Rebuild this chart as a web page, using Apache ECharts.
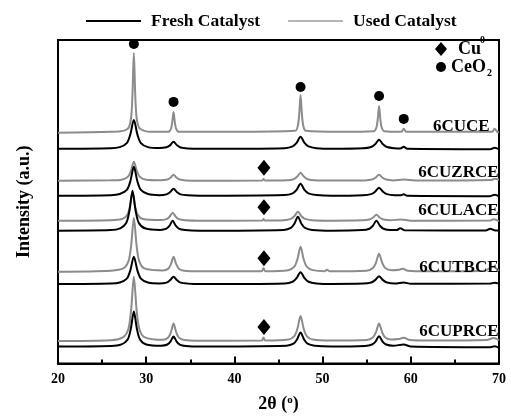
<!DOCTYPE html>
<html>
<head>
<meta charset="utf-8">
<script src="https://cdn.jsdelivr.net/npm/echarts@6/dist/echarts.min.js"></script>
<style>
  html, body { margin: 0; padding: 0; background: #fff; }
  #chart { width: 511px; height: 418px; }
</style>
</head>
<body>
<div id="chart"></div>
<script>
// XRD patterns, 2θ (deg) vs. stacked intensity (a.u., offset per sample)
const xTicks = [20, 30, 40, 50, 60, 70];
const samples = ['6CUCE', '6CUZRCE', '6CULACE', '6CUTBCE', '6CUPRCE'];

// used catalysts (grey traces)
const usedCUCE = [[20,231],[26,232],[27.4,233],[28.0,236],[28.3,247],[28.45,271],[28.6,311],[28.75,271],[28.9,247],[29.2,236],[29.8,233],[30.5,232],[32.5,232],[32.8,235],[32.95,241.5],[33.1,252],[33.25,241.5],[33.4,235],[33.7,232],[40,232],[46.9,233],[47.2,238.6],[47.35,250],[47.5,269],[47.65,250],[47.8,238.6],[48.1,233],[52,232],[55.8,232.6],[56.1,236.4],[56.25,244.5],[56.4,258],[56.55,244.5],[56.7,236.4],[57.0,232.6],[58.9,232],[59.2,235],[59.5,232],[65,232],[69.2,232],[69.5,235],[69.8,232],[70,231.5]];
const usedZRCE = [[20,183],[26,183.5],[27.2,184.1],[27.9,186.8],[28.25,192.5],[28.6,202],[28.95,192.5],[29.3,186.8],[30.0,184.1],[31.7,183.6],[32.4,184.3],[32.75,186],[33.1,189],[33.45,186],[33.8,184.2],[34.5,183.4],[36,183],[43.15,183.2],[43.3,184.8],[43.45,183.2],[45.9,183.5],[46.7,184.6],[47.1,187],[47.5,191],[47.9,187],[48.3,184.6],[49.1,183.5],[51,183.2],[54.8,183.4],[55.6,184.2],[56.0,186],[56.4,189],[56.8,186],[57.2,184.2],[58.0,183.4],[59.2,184.2],[60.5,183.3],[69.2,183.8],[69.5,185],[70,184]];
const usedLACE = [[20,143],[26,143.5],[27.25,144.7],[27.85,148.6],[28.15,157],[28.45,171],[28.75,157],[29.05,148.6],[29.65,144.7],[31.6,143.6],[32.3,144.6],[32.65,147],[33.0,151],[33.35,147],[33.7,144.6],[34.4,143.5],[36,143],[43.15,143.2],[43.3,144.6],[43.45,143.2],[45.6,143.5],[46.4,144.8],[46.8,147.5],[47.2,152],[47.6,147.5],[48.0,144.8],[48.8,143.5],[51,143],[54.5,143.4],[55.3,144.2],[55.7,146],[56.1,149],[56.5,146],[56.9,144.2],[57.7,143.4],[58.9,144.3],[60,143],[69.0,143.2],[69.4,144.4],[70,142.5]];
const usedTBCE = [[20,92],[26,93],[27.4,95.2],[28.0,102.8],[28.3,119],[28.6,146],[28.9,119],[29.2,102.8],[29.8,95.2],[31.9,93.2],[32.5,95],[32.8,99.5],[33.1,107],[33.4,99.5],[33.7,95],[34.3,92.9],[36,92.3],[43.1,92.5],[43.3,95.5],[43.5,92.5],[46.1,93.5],[46.8,97],[47.15,104.5],[47.5,117],[47.85,104.5],[48.2,97],[48.9,93.5],[50.2,92.4],[50.5,94],[50.8,92.4],[55.0,93],[55.7,95.6],[56.05,101],[56.4,110],[56.75,101],[57.1,95.6],[57.8,93.5],[58.7,94],[59.1,94.8],[59.6,93],[62,92.3],[68.4,93],[69.3,97],[70,93]];
const usedPRCE = [[20,22.5],[26,23.3],[27.4,26.4],[28.0,35.4],[28.3,54.8],[28.6,87],[28.9,54.8],[29.2,35.4],[29.8,26.4],[31.9,23.7],[32.5,26],[32.8,31.3],[33.1,40],[33.4,31.3],[33.7,26],[34.3,23.5],[36,22.8],[43.1,23],[43.3,26],[43.5,23],[46.1,24],[46.8,27.5],[47.15,35],[47.5,47.5],[47.85,35],[48.2,27.5],[48.9,24],[51,23],[55.0,23.5],[55.7,26],[56.05,31.3],[56.4,40],[56.75,31.3],[57.1,26],[57.8,24],[58.6,24.5],[59.2,25.8],[59.9,23.5],[62,23],[68.6,23.5],[69.4,25.5],[70,23.3]];

// fresh catalysts (black traces)
const freshCUCE = [[20,215],[26,215.5],[27.0,216.7],[27.8,220.8],[28.2,229.5],[28.6,244],[29.0,229.5],[29.4,220.8],[30.2,216.7],[31.5,215.8],[32.3,216.6],[32.7,218.5],[33.1,222],[33.5,218.5],[33.9,216.4],[34.7,215.4],[36,215],[45.7,215.7],[46.6,217.4],[47.05,221],[47.5,227],[47.95,221],[48.4,217.4],[49.3,215.7],[51,215],[54.6,215.5],[55.5,216.8],[55.95,219.5],[56.4,224],[56.85,219.5],[57.3,216.8],[58.2,215.5],[58.8,215.3],[59.2,217],[59.6,215],[69.0,214.6],[69.5,216],[70,214.5]];
const freshZRCE = [[20,168],[26,168.5],[27.0,169.7],[27.8,173.8],[28.2,182.5],[28.6,197],[29.0,182.5],[29.4,173.8],[30.2,169.7],[31.5,168.6],[32.3,169.4],[32.7,171.5],[33.1,175],[33.5,171.5],[33.9,169.4],[34.7,168.4],[36,168],[45.7,168.7],[46.6,170.4],[47.05,174],[47.5,180],[47.95,174],[48.4,170.4],[49.3,168.7],[51,168],[54.6,168.5],[55.5,169.6],[55.95,172],[56.4,176],[56.85,172],[57.3,169.6],[58.2,168.5],[58.8,168.4],[59.2,169.5],[59.6,168],[69.0,167.6],[69.5,169],[70,167.5]];
const freshLACE = [[20,133],[26,133.6],[27.05,135.4],[27.75,141],[28.1,153],[28.45,173],[28.8,153],[29.15,141],[29.85,135.4],[31.6,133.8],[32.3,135],[32.65,138],[33.0,143],[33.35,138],[33.7,135],[34.4,133.6],[36,133],[45.6,133.8],[46.4,135.8],[46.8,140],[47.2,147],[47.6,140],[48.0,135.8],[48.8,133.8],[51,133],[54.5,133.6],[55.3,135],[55.7,138],[56.1,143],[56.5,138],[56.9,135],[57.7,133.6],[58.4,133.6],[58.8,135.5],[59.3,133.5],[68.5,133.2],[69.0,135],[69.6,133.3],[70,133.3]];
const freshTBCE = [[20,79.5],[26,80],[27.0,81.1],[27.8,85],[28.2,93.3],[28.6,107],[29.0,93.3],[29.4,85],[30.2,81.1],[31.5,80.2],[32.3,81],[32.7,83.3],[33.1,87],[33.5,83.3],[33.9,81],[34.7,80],[36,79.5],[45.7,80.2],[46.6,81.9],[47.05,85.5],[47.5,91.5],[47.95,85.5],[48.4,81.9],[49.3,80.2],[51,79.6],[54.6,80],[55.5,81.1],[55.95,83.5],[56.4,87.5],[56.85,83.5],[57.3,81.1],[58.2,80],[59.2,81.2],[60,79.8],[69,80],[69.5,81],[70,80]];
const freshPRCE = [[20,17],[26,17.5],[27.2,19.1],[27.9,24],[28.25,34.5],[28.6,52],[28.95,34.5],[29.3,24],[30.0,19.1],[31.7,17.8],[32.4,19],[32.75,22],[33.1,27],[33.45,22],[33.8,19],[34.5,17.6],[36,17],[45.9,17.8],[46.7,19.8],[47.1,24],[47.5,31],[47.9,24],[48.3,19.8],[49.1,17.8],[51,17],[54.8,17.6],[55.6,19],[56.0,22],[56.4,27.3],[56.8,22],[57.2,19],[58.0,17.8],[59.2,19],[60,17],[69,16.3],[69.5,17.2],[70,15.7]];

// phase markers: CeO2 reflections above 6CUCE, Cu0 reflection above each doped sample
const ceo2Marks = [[28.6,320],[33.1,262],[47.5,277],[56.4,268],[59.2,245]];
const cuMarks = [[43.35,196],[43.35,156.5],[43.35,105.5],[43.35,36.5]];
// sample label anchors (right edge of text, same units as the traces)
const labelAnchors = [[68.93,237],[69.95,191],[69.95,153],[69.95,96],[69.95,32]];

const SERIF = '"Liberation Serif", "Times New Roman", serif';
const GREY = '#8c8c8c';

const usedSets = [usedCUCE, usedZRCE, usedLACE, usedTBCE, usedPRCE];
const freshSets = [freshCUCE, freshZRCE, freshLACE, freshTBCE, freshPRCE];

const series = [];
usedSets.forEach(d => series.push({
  name: 'Used Catalyst', type: 'line', data: d, showSymbol: false, smooth: 0.3,
  lineStyle: { color: GREY, width: 2 }, itemStyle: { color: GREY }, z: 2, silent: true
}));
freshSets.forEach(d => series.push({
  name: 'Fresh Catalyst', type: 'line', data: d, showSymbol: false, smooth: 0.3,
  lineStyle: { color: '#000', width: 2 }, itemStyle: { color: '#000' }, z: 3, silent: true
}));
series.push({ type: 'scatter', data: ceo2Marks, symbol: 'circle', symbolSize: 10,
  itemStyle: { color: '#000', opacity: 1 }, z: 4, silent: true });
series.push({ type: 'scatter', data: cuMarks, symbol: 'diamond', symbolSize: [13, 16],
  itemStyle: { color: '#000', opacity: 1 }, z: 4, silent: true });
series.push({ type: 'scatter', data: labelAnchors, symbolSize: 0, silent: true, z: 5,
  itemStyle: { opacity: 1 },
  label: { show: true, position: 'left', distance: 0,
    formatter: p => samples[p.dataIndex],
    fontFamily: SERIF, fontWeight: 'bold', fontSize: 17, color: '#000' } });

const chart = echarts.init(document.getElementById('chart'));
chart.setOption({
  animation: false,
  backgroundColor: '#fff',
  grid: { left: 58, right: 12, top: 40, bottom: 54, show: true,
    borderColor: '#000', borderWidth: 2, backgroundColor: 'transparent' },
  legend: {
    top: 7, left: 81, itemGap: 28, itemWidth: 55, itemHeight: 2, icon: 'rect',
    textStyle: { fontFamily: SERIF, fontWeight: 'bold', fontSize: 17.5, color: '#000',
      padding: [0, 0, 0, 5] },
    data: [
      { name: 'Fresh Catalyst', itemStyle: { color: '#000' } },
      { name: 'Used Catalyst', itemStyle: { color: '#b5b5b5' } }
    ]
  },
  xAxis: {
    type: 'value', min: 20, max: 70, interval: 10,
    name: '2θ ({s|o})', nameLocation: 'middle', nameGap: 31,
    nameTextStyle: { fontFamily: SERIF, fontWeight: 'bold', fontSize: 18, color: '#000',
      rich: { s: { fontFamily: SERIF, fontWeight: 'bold', fontSize: 11, verticalAlign: 'top', padding: [0, 0, 8, 0] } } },
    axisLine: { lineStyle: { color: '#000', width: 2 } },
    axisTick: { inside: true, length: 7, lineStyle: { color: '#000', width: 2 } },
    minorTick: { show: true, splitNumber: 2, length: 4, lineStyle: { color: '#000', width: 2 } },
    axisLabel: { fontFamily: SERIF, fontWeight: 'bold', fontSize: 14, color: '#000', margin: 9,
      formatter: v => xTicks.includes(v) ? String(v) : '' },
    splitLine: { show: false }
  },
  yAxis: {
    type: 'value', min: 0, max: 324,
    name: 'Intensity (a.u.)', nameLocation: 'middle', nameGap: 25, nameRotate: 90,
    nameTextStyle: { fontFamily: SERIF, fontWeight: 'bold', fontSize: 18, color: '#000' },
    axisLine: { show: true, lineStyle: { color: '#000', width: 2 } },
    axisTick: { show: false }, axisLabel: { show: false }, splitLine: { show: false }
  },
  graphic: [
    { type: 'polygon', shape: { points: [[441, 42], [447, 49], [441, 56], [435, 49]] }, style: { fill: '#000' } },
    { type: 'text', left: 458, top: 40, style: { text: 'Cu', fontFamily: SERIF, fontWeight: 'bold', fontSize: 18, fill: '#000' } },
    { type: 'text', left: 480, top: 35, style: { text: '0', fontFamily: SERIF, fontWeight: 'bold', fontSize: 10, fill: '#000' } },
    { type: 'circle', shape: { cx: 441, cy: 67, r: 5 }, style: { fill: '#000' } },
    { type: 'text', left: 451, top: 58, style: { text: 'CeO', fontFamily: SERIF, fontWeight: 'bold', fontSize: 18, fill: '#000' } },
    { type: 'text', left: 487, top: 68, style: { text: '2', fontFamily: SERIF, fontWeight: 'bold', fontSize: 10, fill: '#000' } }
  ],
  series: series
});
</script>
</body>
</html>
